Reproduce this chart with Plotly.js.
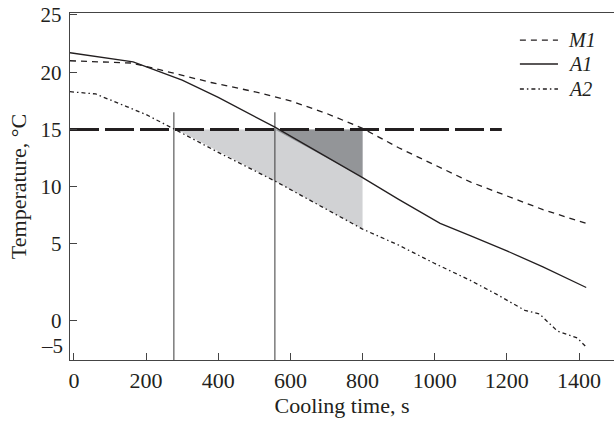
<!DOCTYPE html>
<html>
<head>
<meta charset="utf-8">
<script src="https://cdn.plot.ly/plotly-3.0.1.min.js"></script>
<style>html,body{margin:0;padding:0;background:#fff;}#chart{width:614px;height:423px;}</style>
</head>
<body>
<div id="chart"></div>
<script>
// Series (x = cooling time, s; y = plotted temperature position)
var m1X = [-11, 160, 240, 380, 515, 600, 700, 800, 900, 1000, 1100, 1200, 1300, 1420];
var m1Y = [21.0, 20.8, 20.2, 19.1, 18.2, 17.5, 16.4, 15.1, 13.4, 11.9, 10.4, 9.2, 8.0, 6.8];

var a1X = [-11, 164, 300, 400, 557, 700, 800, 900, 1015, 1100, 1200, 1300, 1420];
var a1Y = [21.7, 20.9, 19.3, 17.8, 15.2, 12.6, 10.8, 8.9, 6.8, 5.7, 4.4, 3.0, 1.2];

var a2X = [-11, 60, 146, 200, 280, 400, 557, 700, 800, 900, 1000, 1100, 1172, 1250, 1290, 1340, 1375, 1395, 1420];
var a2Y = [18.3, 18.1, 17.0, 16.3, 15.0, 13.0, 10.5, 8.0, 6.3, 4.9, 3.3, 1.8, 0.6, -0.8, -1.1, -2.6, -3.0, -3.2, -4.0];

var seriesNames = ['M1', 'A1', 'A2'];

// Threshold line and marker lines
var thrX = [-11, 1186];
var thrY = [15, 15];
var vLeftX = [277, 277];
var vRightX = [557, 557];
var vY = [-5.13, 16.5];

// Shaded regions
var lightX = [285, 557, 800, 800, 557, 285];
var lightY = [15, 15, 15, 6.3, 10.5, 15];
var darkX = [557, 800, 800, 557];
var darkY = [15, 15, 10.8, 15];

// Tick labels (positions on the plotted scale)
var yTickVals = [-1.72, 5, 10, 15, 20, 25];
var yTickText = ['0', '5', '10', '15', '20', '25'];
var yBottomLabel = '–5';
var yBottomPos = -3.95;
var xTickVals = [0, 200, 400, 600, 800, 1000, 1200, 1400];

var ink = '#231f20';
var font = 'Liberation Serif, Times New Roman, serif';
var dashes = ['6px,5px', 'solid', '4px,3px,1.5px,3px'];

var traces = [
  {x: lightX, y: lightY, mode: 'lines', fill: 'toself', fillcolor: '#d1d2d4', line: {width: 0}, showlegend: false, hoverinfo: 'skip'},
  {x: darkX, y: darkY, mode: 'lines', fill: 'toself', fillcolor: '#939598', line: {width: 0}, showlegend: false, hoverinfo: 'skip'},
  {x: vLeftX, y: vY, mode: 'lines', line: {color: '#3a3a3a', width: 1}, showlegend: false},
  {x: vRightX, y: vY, mode: 'lines', line: {color: '#3a3a3a', width: 1}, showlegend: false},
  {x: m1X, y: m1Y, name: seriesNames[0], mode: 'lines', line: {color: ink, width: 1.3, dash: dashes[0]}, showlegend: false},
  {x: a1X, y: a1Y, name: seriesNames[1], mode: 'lines', line: {color: ink, width: 1.3, dash: dashes[1]}, showlegend: false},
  {x: a2X, y: a2Y, name: seriesNames[2], mode: 'lines', line: {color: ink, width: 1.3, dash: dashes[2]}, showlegend: false},
  {x: thrX, y: thrY, mode: 'lines', line: {color: ink, width: 3, dash: '29px,6px'}, showlegend: false}
];

// Legend drawn as paper-positioned samples and labels
var legendRows = [0.922, 0.853, 0.781];
var shapes = [];
var annotations = [
  {xref: 'paper', yref: 'y', x: 0, y: yBottomPos, xanchor: 'right', yanchor: 'middle', xshift: -5,
   text: yBottomLabel, showarrow: false, font: {family: font, size: 21, color: ink}}
];
for (var i = 0; i < seriesNames.length; i++) {
  shapes.push({type: 'line', xref: 'paper', yref: 'paper', x0: 0.827, x1: 0.897, y0: legendRows[i], y1: legendRows[i],
               line: {color: ink, width: 1.3, dash: dashes[i]}});
  annotations.push({xref: 'paper', yref: 'paper', x: 0.912, y: legendRows[i], xanchor: 'left', yanchor: 'middle',
                    text: '<i>' + seriesNames[i] + '</i>', showarrow: false, font: {family: font, size: 20, color: ink}});
}

var layout = {
  width: 614, height: 423,
  margin: {l: 70, r: 0, t: 13, b: 63},
  paper_bgcolor: '#fff', plot_bgcolor: '#fff',
  font: {family: font, size: 22, color: ink},
  showlegend: false,
  xaxis: {
    range: [-11, 1497], tickvals: xTickVals, ticks: 'inside', ticklen: 7, tickcolor: '#444',
    showline: true, linecolor: '#444', linewidth: 1.3, mirror: true, showgrid: false, zeroline: false,
    tickfont: {family: font, size: 22, color: ink},
    title: {text: 'Cooling time, s', font: {family: font, size: 22, color: ink}, standoff: 3}
  },
  yaxis: {
    range: [-5.13, 25.17], tickvals: yTickVals, ticktext: yTickText, ticks: 'inside', ticklen: 7, tickcolor: '#444',
    showline: true, linecolor: '#444', linewidth: 1.3, showgrid: false, zeroline: false,
    tickfont: {family: font, size: 21, color: ink}, ticklabelstandoff: 3,
    title: {text: 'Temperature, °C', font: {family: font, size: 22, color: ink}, standoff: 7}
  },
  shapes: shapes,
  annotations: annotations
};

Plotly.newPlot('chart', traces, layout, {displayModeBar: false, staticPlot: true});
</script>
</body>
</html>
